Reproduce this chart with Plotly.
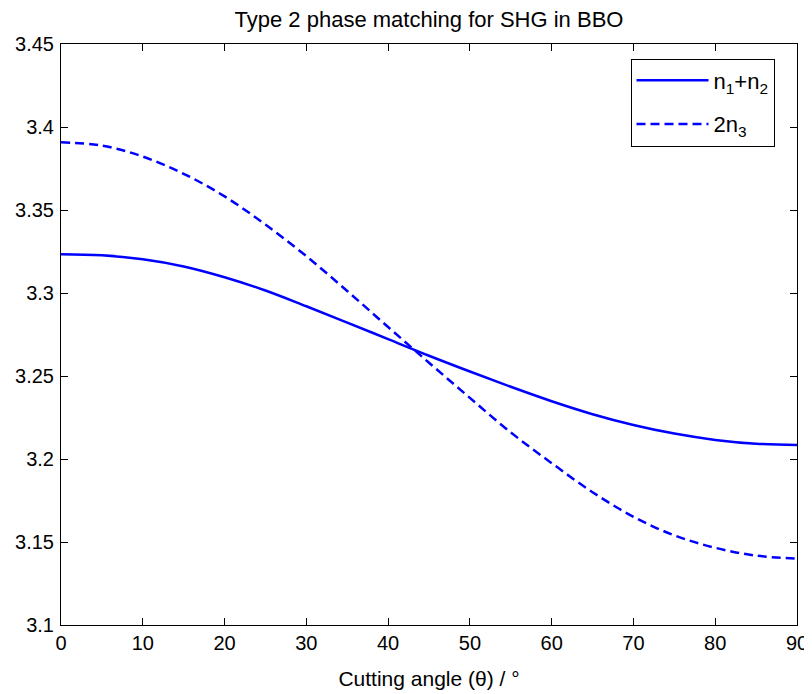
import plotly.graph_objects as go

angle = [0, 5, 10, 15, 20, 25, 30, 35, 40, 45, 50, 55, 60, 65, 70, 75, 80, 85, 90]
n1_plus_n2 = [3.3233, 3.3227, 3.3203, 3.3160, 3.3095, 3.3015, 3.2920, 3.2822, 3.2722,
              3.2622, 3.2527, 3.2435, 3.2348, 3.2270, 3.2205, 3.2153, 3.2115, 3.2092, 3.2085]
two_n3 = [3.3908, 3.3888, 3.3822, 3.3718, 3.3582, 3.3412, 3.3222, 3.3012, 3.2795,
          3.2580, 3.2368, 3.2160, 3.1975, 3.1800, 3.1652, 3.1540, 3.1465, 3.1418, 3.1400]
x_ticks = [0, 10, 20, 30, 40, 50, 60, 70, 80, 90]
y_ticks = [3.1, 3.15, 3.2, 3.25, 3.3, 3.35, 3.4, 3.45]
y_tick_labels = ["3.1", "3.15", "3.2", "3.25", "3.3", "3.35", "3.4", "3.45"]

FONT = "Liberation Sans, Arial, sans-serif"
BLUE = "#0000FF"

# page body has an 8px default margin; compensate so the figure lands where the reference is
W, H = 804, 686
L, T = 53, 36
PW, PH = 736, 581

fig = go.Figure()
fig.add_trace(go.Scatter(x=angle, y=n1_plus_n2, mode="lines", name="n<sub>1</sub>+n<sub>2</sub>",
                         legendgroup="a",
                         line=dict(color=BLUE, width=2.5, shape="spline")))
fig.add_trace(go.Scatter(x=angle, y=two_n3, mode="lines", name="2n<sub>3</sub>",
                         legendgroup="b",
                         line=dict(color=BLUE, width=2.5, dash="9px,5px", shape="spline")))

axis_common = dict(showline=True, linecolor="black", linewidth=1, mirror="ticks",
                   ticks="inside", ticklen=7, tickcolor="black", showgrid=False,
                   zeroline=False, automargin=False,
                   tickfont=dict(family=FONT, size=20, color="black"))

fig.update_layout(
    width=W, height=H,
    margin=dict(l=L, r=W - L - PW, t=T, b=H - T - PH, pad=0),
    paper_bgcolor="white", plot_bgcolor="white",
    font=dict(family=FONT, size=20, color="black"),
    title=dict(text="Type 2 phase matching for SHG in BBO", x=(L + PW / 2) / W,
               xanchor="center", y=1 - 11 / H, yanchor="middle",
               font=dict(family=FONT, size=22, color="black")),
    xaxis=dict(range=[0, 90], tickvals=x_ticks, ticktext=[str(v) for v in x_ticks],
               title=dict(text="Cutting angle (θ) / °", font=dict(family=FONT, size=21), standoff=18),
               **axis_common),
    yaxis=dict(range=[3.1, 3.45], tickvals=y_ticks, ticktext=y_tick_labels,
               ticklabelstandoff=2, **axis_common),
    legend=dict(x=(702.5 - 61) / PW, xanchor="center", y=1 - (102.5 - 44) / PH, yanchor="middle",
                bgcolor="white", bordercolor="black", borderwidth=1,
                font=dict(family=FONT, size=22, color="black"), itemwidth=72,
                traceorder="grouped", tracegroupgap=12),
    showlegend=True,
)

fig.write_html("out.html")
